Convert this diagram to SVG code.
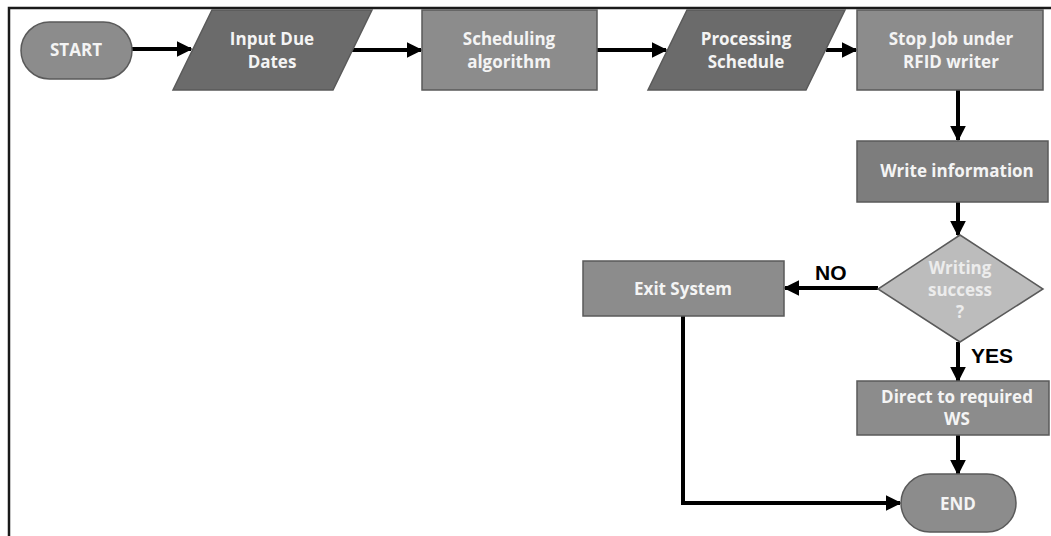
<svg xmlns="http://www.w3.org/2000/svg" width="1051" height="536" viewBox="0 0 1051 536">
  <style>
    .shape { stroke: #5a5a5a; stroke-width: 1.5; }
    .mid { fill: #8c8c8c; }
    .dark { fill: #6b6b6b; }
    .write { fill: #7d7d7d; }
    .light { fill: #bcbcbc; }
    .lbl { font-family: "Open Sans", "Liberation Sans", sans-serif; font-weight: bold; font-size: 17px; fill: #f4f4f4; text-anchor: middle; dominant-baseline: central; }
    .dlbl { fill: #ececec; }
    .edge { fill: none; stroke: #000; stroke-width: 4; }
    .tag { font-family: "Liberation Sans", Arial, sans-serif; font-weight: bold; font-size: 21px; fill: #000; }
  </style>
  <defs>
    <marker id="arrow" viewBox="0 0 10 10" refX="9" refY="5" markerWidth="4" markerHeight="4" orient="auto" markerUnits="strokeWidth">
      <path d="M0,0 L10,5 L0,10 z" fill="#000"/>
    </marker>
  </defs>

  <rect width="1051" height="536" fill="#fff"/>
  <!-- frame -->
  <path d="M9,536 V8 H1051" fill="none" stroke="#1a1a1a" stroke-width="2.5"/>

  <g id="connectors">
    <line class="edge" x1="132" y1="49" x2="191" y2="49" marker-end="url(#arrow)"/>
    <line class="edge" x1="352" y1="50" x2="421" y2="50" marker-end="url(#arrow)"/>
    <line class="edge" x1="597" y1="50" x2="666" y2="50" marker-end="url(#arrow)"/>
    <line class="edge" x1="826" y1="50" x2="856" y2="50" marker-end="url(#arrow)"/>
    <line class="edge" x1="958" y1="90" x2="958" y2="140" marker-end="url(#arrow)"/>
    <line class="edge" x1="958" y1="202" x2="958" y2="235" marker-end="url(#arrow)"/>
    <line class="edge" x1="878" y1="288" x2="785" y2="288" marker-end="url(#arrow)"/>
    <line class="edge" x1="958" y1="342" x2="958" y2="381" marker-end="url(#arrow)"/>
    <line class="edge" x1="958" y1="435" x2="958" y2="474" marker-end="url(#arrow)"/>
    <polyline class="edge" points="683,316 683,503 900,503" marker-end="url(#arrow)"/>
    <text class="tag" x="815" y="280">NO</text>
    <text class="tag" x="971" y="363">YES</text>
  </g>

  <g id="start">
    <rect class="shape mid" x="21" y="22" width="111" height="57" rx="28.5"/>
    <text class="lbl" x="76" y="49">START</text>
  </g>

  <g id="input-due-dates">
    <polygon class="shape dark" points="212,10 372,10 333,90 173,90"/>
    <text class="lbl" x="272" y="38">Input Due</text>
    <text class="lbl" x="272" y="61">Dates</text>
  </g>

  <g id="scheduling-algorithm">
    <rect class="shape mid" x="422" y="10" width="175" height="80"/>
    <text class="lbl" x="509" y="38">Scheduling</text>
    <text class="lbl" x="509" y="61">algorithm</text>
  </g>

  <g id="processing-schedule">
    <polygon class="shape dark" points="687,10 845,10 806,90 648,90"/>
    <text class="lbl" x="746" y="38">Processing</text>
    <text class="lbl" x="746" y="61">Schedule</text>
  </g>

  <g id="stop-job">
    <rect class="shape mid" x="857" y="10" width="186" height="80"/>
    <text class="lbl" x="951" y="38">Stop Job under</text>
    <text class="lbl" x="951" y="61">RFID writer</text>
  </g>

  <g id="write-information">
    <rect class="shape write" x="857" y="141" width="191" height="61"/>
    <text class="lbl" x="957" y="170">Write information</text>
  </g>

  <g id="writing-success">
    <polygon class="shape light" points="960,235 1043,289 960,342 878,289"/>
    <text class="lbl dlbl" x="960" y="267">Writing</text>
    <text class="lbl dlbl" x="960" y="289">success</text>
    <text class="lbl dlbl" x="960" y="311">?</text>
  </g>

  <g id="exit-system">
    <rect class="shape mid" x="583" y="261" width="201" height="55"/>
    <text class="lbl" x="683" y="288">Exit System</text>
  </g>

  <g id="direct-to-ws">
    <rect class="shape mid" x="857" y="381" width="192" height="54"/>
    <text class="lbl" x="957" y="396">Direct to required</text>
    <text class="lbl" x="957" y="418">WS</text>
  </g>

  <g id="end">
    <rect class="shape mid" x="901" y="474" width="115" height="58" rx="29"/>
    <text class="lbl" x="958" y="503">END</text>
  </g>
</svg>
